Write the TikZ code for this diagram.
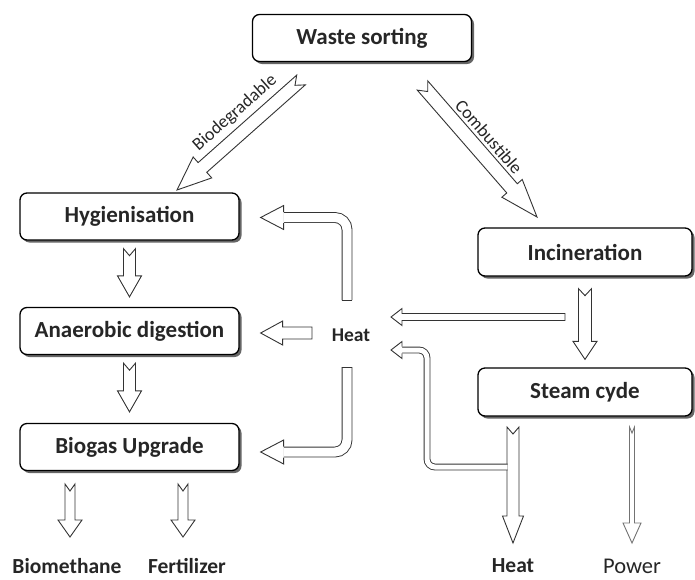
\documentclass[tikz,border=0pt]{standalone}
\usepackage{fontspec}
\setmainfont{Carlito}
\usetikzlibrary{calc,shadows}
% [#1 style] #2 from, #3 to, #4 half shaft, #5 half head, #6 head length, #7 notch depth
\newcommand\blockarrow[7][]{%
  \coordinate (bah) at ($(#3)!#6!(#2)$);
  \coordinate (ban) at ($(#2)!#7!(#3)$);
  \draw[barrow,#1] ($(#2)!#4!90:(#3)$) -- ($(bah)!#4!-90:(#2)$) -- ($(bah)!#5!-90:(#2)$) -- (#3)
     -- ($(bah)!#5!90:(#2)$) -- ($(bah)!#4!90:(#2)$) -- ($(#2)!#4!-90:(#3)$) -- (ban) -- cycle;}
\tikzset{
  box/.style={draw=black, line width=1.3pt, rounded corners=7pt, fill=white,
    minimum width=219pt, minimum height=47pt, inner sep=0pt,
    font=\bfseries\fontsize{23}{25}\selectfont, text=black!85,
    drop shadow={shadow xshift=2.5pt, shadow yshift=-2.5pt, fill=black!75, opacity=0.8}},
  barrow/.style={draw=black!80, line width=0.9pt, fill=white, line join=miter},
  pipe/.style={draw=black!80, line width=0.9pt, double=white, double distance=9pt, rounded corners=12pt},
  lbl/.style={font=\bfseries\fontsize{19.5}{21}\selectfont, text=black!85, inner sep=0pt},
  olbl/.style={font=\bfseries\fontsize{21.5}{23}\selectfont, text=black!85, inner sep=0pt},
  slbl/.style={font=\fontsize{18}{20}\selectfont, text=black!85, inner sep=0pt},
}
\begin{document}
\begin{tikzpicture}[x=1pt,y=-1pt]
\useasboundingbox (0,0) rectangle (695,579);
\node[box] (ws) at (362,38) {Waste sorting};
\node[box] (hyg) at (129.5,216.5) {Hygienisation};
\node[box] (ana) at (129.5,331) {Anaerobic digestion};
\node[box] (bio) at (129.5,447) {Biogas Upgrade};
\node[box, minimum width=214pt, minimum height=48pt] (inc) at (585,252) {Incineration};
\node[box, minimum width=214pt, minimum height=48pt] (stm) at (585,392) {Steam cyde};
\node[lbl] (heat) at (351,335) {Heat};
\node[olbl] (bm) at (67,566) {Biomethane};
\node[olbl] (fe) at (187,566) {Fertilizer};
\node[olbl] (hout) at (513,566) {Heat};
\node[olbl, font=\fontsize{22.5}{24}\selectfont] (pw) at (632,566) {Power};

% sorting arrows
\coordinate (a1s) at (301,80); \coordinate (a1e) at (177,190);
\blockarrow{a1s}{a1e}{6.5pt}{14pt}{34pt}{8pt}
\coordinate (a2s) at (422.5,85.5); \coordinate (a2e) at (537,217);
\blockarrow{a2s}{a2e}{7pt}{13.5pt}{38pt}{8pt}
\node[slbl, rotate=41.5] (lbio) at (235,113) {Biodegradable};
\node[slbl, rotate=-49] (lcom) at (489,137) {Combustible};

% left column
\coordinate (a3s) at ($(hyg.south)+(0,8)$); \coordinate (a3e) at ($(ana.north)+(0,-10)$);
\blockarrow{a3s}{a3e}{6pt}{12pt}{21pt}{7pt}
\coordinate (a4s) at ($(ana.south)+(0,8)$); \coordinate (a4e) at ($(bio.north)+(0,-11)$);
\blockarrow{a4s}{a4e}{6pt}{12pt}{21pt}{7pt}
\coordinate (a5s) at (70,484); \coordinate (a5e) at (70,537);
\blockarrow{a5s}{a5e}{5pt}{12pt}{17pt}{7pt}
\coordinate (a6s) at (183,484); \coordinate (a6e) at (183,537);
\blockarrow{a6s}{a6e}{5pt}{12pt}{17pt}{7pt}

% right column
\coordinate (a7s) at ($(inc.south)+(0,12)$); \coordinate (a7e) at ($(stm.north)+(0,-8)$);
\blockarrow{a7s}{a7e}{6.5pt}{12pt}{18pt}{7pt}
\coordinate (a8s) at (513,427); \coordinate (a8e) at (513,543);
\blockarrow{a8s}{a8e}{6pt}{10.5pt}{27pt}{7pt}
\coordinate (a9s) at (632,427); \coordinate (a9e) at (632,543);
\blockarrow[draw=black!55]{a9s}{a9e}{2.5pt}{9pt}{20pt}{6pt}
\coordinate (a10s) at (565,317); \coordinate (a10e) at (391,317);
\blockarrow{a10s}{a10e}{3.5pt}{8.5pt}{11pt}{0pt}

% heat distribution
\coordinate (b1s) at (347,300); \coordinate (b1e) at ($(hyg.east)+(21,1)$);
\draw[pipe] (b1s) |- ($(b1e)+(23,0)$);
\draw[barrow] ($(b1e)+(23,-5.5)$) -- ($(b1e)+(23,-12)$) -- (b1e) -- ($(b1e)+(23,12)$) -- ($(b1e)+(23,5.5)$);
\draw[draw=black!80, line width=0.9pt] ($(b1s)+(-5.4,0)$) -- ($(b1s)+(5.4,0)$);

\coordinate (b2s) at (312,333); \coordinate (b2e) at ($(ana.east)+(21,2)$);
\blockarrow{b2s}{b2e}{6pt}{12pt}{22pt}{0pt}

\coordinate (b3s) at (347,367); \coordinate (b3e) at ($(bio.east)+(21,5)$);
\draw[pipe] (b3s) |- ($(b3e)+(23,0)$);
\draw[barrow] ($(b3e)+(23,-5.5)$) -- ($(b3e)+(23,-12)$) -- (b3e) -- ($(b3e)+(23,12)$) -- ($(b3e)+(23,5.5)$);
\draw[draw=black!80, line width=0.9pt] ($(b3s)+(-5.4,0)$) -- ($(b3s)+(5.4,0)$);

\coordinate (b4s) at (507.5,467); \coordinate (b4e) at (391,350);
\draw[pipe, double distance=5pt, rounded corners=8pt] (b4s) -- (427,467) |- ($(b4e)+(11,0)$);
\draw[barrow] ($(b4e)+(11,-3.4)$) -- ($(b4e)+(11,-8.5)$) -- (b4e) -- ($(b4e)+(11,8.5)$) -- ($(b4e)+(11,3.4)$);
\end{tikzpicture}
\end{document}
